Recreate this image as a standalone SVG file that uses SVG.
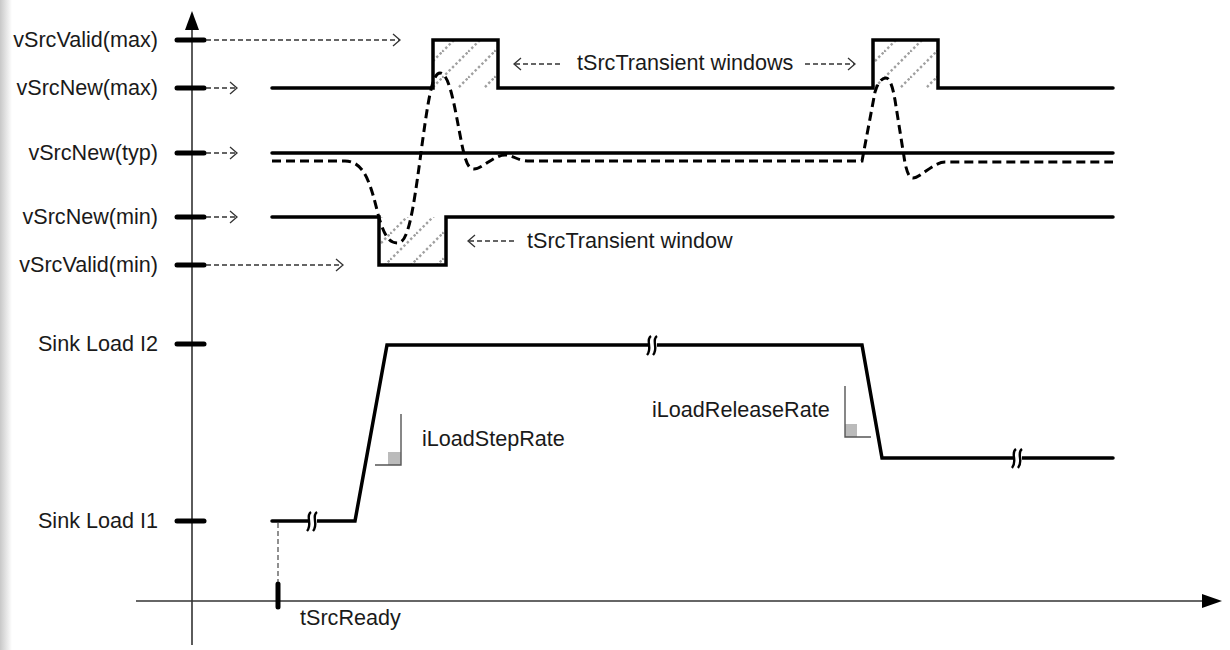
<svg xmlns="http://www.w3.org/2000/svg" width="1230" height="650" viewBox="0 0 1230 650">
<style>
  text { font-family: "Liberation Sans", Arial, sans-serif; font-size: 21.6px; fill: #1a1a1a; }
  .lbl { text-anchor: end; }
  .axis { stroke: #333; stroke-width: 1.6; fill: none; }
  .tick { stroke: #000; stroke-width: 5; stroke-linecap: round; }
  .sig { stroke: #000; stroke-width: 3.5; fill: none; stroke-linejoin: miter; stroke-linecap: round; }
  .trans { stroke: #000; stroke-width: 3; fill: none; stroke-dasharray: 9 5; }
  .ptr { stroke: #333; stroke-width: 1.3; fill: none; stroke-dasharray: 5 3; }
  .chev { stroke: #333; stroke-width: 1.3; fill: none; }
  .slope { stroke: #555; stroke-width: 1.4; fill: none; }
  .sq { fill: #bbb; }
  .brk { stroke: #000; stroke-width: 2.4; fill: none; }
  .gap { fill: #fff; }
</style>
<defs>
  <pattern id="hatch" patternUnits="userSpaceOnUse" width="26" height="26">
    <path d="M0,26 L26,0 M-13,13 L13,-13 M13,39 L39,13" stroke="#a0a0a0" stroke-width="2.4" stroke-dasharray="2.4 2.4"/>
  </pattern>
  <linearGradient id="edge" x1="0" y1="0" x2="1" y2="0">
    <stop offset="0" stop-color="#c8c8c8"/>
    <stop offset="1" stop-color="#ffffff"/>
  </linearGradient>
</defs>
<rect width="1230" height="650" fill="#fff"/>
<rect x="0" y="0" width="12" height="650" fill="url(#edge)"/>

<g id="axes">
  <line class="axis" x1="192" y1="28" x2="192" y2="645"/>
  <polygon points="192,11 185,30 199,30" fill="#000"/>
  <line class="axis" x1="136" y1="601" x2="1204" y2="601"/>
  <polygon points="1222,601 1202,594 1202,608" fill="#000"/>
</g>

<g id="ticks">
  <line class="tick" x1="177" y1="40" x2="204" y2="40"/>
  <line class="tick" x1="177" y1="88" x2="204" y2="88"/>
  <line class="tick" x1="177" y1="153" x2="204" y2="153"/>
  <line class="tick" x1="177" y1="217" x2="204" y2="217"/>
  <line class="tick" x1="177" y1="265" x2="204" y2="265"/>
  <line class="tick" x1="177" y1="344" x2="204" y2="344"/>
  <line class="tick" x1="177" y1="521" x2="204" y2="521"/>
  <line class="tick" x1="278" y1="584" x2="278" y2="607"/>
</g>

<g id="labels">
  <text class="lbl" x="158" y="47">vSrcValid(max)</text>
  <text class="lbl" x="158" y="95">vSrcNew(max)</text>
  <text class="lbl" x="158" y="160">vSrcNew(typ)</text>
  <text class="lbl" x="158" y="224">vSrcNew(min)</text>
  <text class="lbl" x="158" y="272">vSrcValid(min)</text>
  <text class="lbl" x="158" y="351">Sink Load I2</text>
  <text class="lbl" x="158" y="528">Sink Load I1</text>
  <text x="300" y="625">tSrcReady</text>
  <text x="422" y="446">iLoadStepRate</text>
  <text x="652" y="417">iLoadReleaseRate</text>
  <text x="577" y="70">tSrcTransient windows</text>
  <text x="527" y="248">tSrcTransient window</text>
</g>

<g id="connectors">
  <line class="ptr" x1="206" y1="40" x2="399" y2="40"/>
  <path class="chev" d="M393,34 L400,40 L393,46"/>
  <line class="ptr" x1="206" y1="88" x2="236" y2="88"/>
  <path class="chev" d="M230,82 L237,88 L230,94"/>
  <line class="ptr" x1="206" y1="153" x2="236" y2="153"/>
  <path class="chev" d="M230,147 L237,153 L230,159"/>
  <line class="ptr" x1="206" y1="217" x2="236" y2="217"/>
  <path class="chev" d="M230,211 L237,217 L230,223"/>
  <line class="ptr" x1="206" y1="265" x2="342" y2="265"/>
  <path class="chev" d="M336,259 L343,265 L336,271"/>
  <line class="ptr" x1="515" y1="64" x2="562" y2="64"/>
  <path class="chev" d="M521,58 L514,64 L521,70"/>
  <line class="ptr" x1="805" y1="64" x2="854" y2="64"/>
  <path class="chev" d="M848,58 L855,64 L848,70"/>
  <line class="ptr" x1="469" y1="241" x2="514" y2="241"/>
  <path class="chev" d="M475,235 L468,241 L475,247"/>
  <line x1="278" y1="523" x2="278" y2="582" stroke="#555" stroke-width="1.3" stroke-dasharray="5 3"/>
</g>

<g id="windows">
  <rect x="433" y="40" width="65" height="48" fill="url(#hatch)"/>
  <rect x="873" y="40" width="65" height="48" fill="url(#hatch)"/>
  <rect x="379" y="217" width="67" height="48" fill="url(#hatch)"/>
</g>

<g id="signals">
  <path class="sig" d="M272,88 L433,88 L433,40 L498,40 L498,88 L873,88 L873,40 L938,40 L938,88 L1113,88"/>
  <path class="sig" d="M272,153 L1113,153" stroke-width="3"/>
  <path class="sig" d="M272,217 L379,217 L379,265 L446,265 L446,217 L1113,217"/>
  <path class="trans" d="M272,161 L345,161 C365,161 371,186 378,214 C385,240 391,243 398,243 C408,243 413,212 420,160 C428,100 432,73 440,73 C450,73 455,110 462,145 C466,164 469,169 474,169 C482,169 494,155 505,155 C514,155 516,161 530,161 L862,161 L875,92 C878,82 882,78 886,78 C890,78 893,88 895,100 L905,163 C907,172 909,178 913,178 C920,178 934,162 945,162 L1113,162"/>
  <path class="sig" d="M272,521 L355,521 L387,345 L862,345 L882,458 L1113,458"/>
</g>

<g id="breaks">
  <rect class="gap" x="309" y="513" width="8" height="16"/>
  <path class="brk" d="M311,512 C305,516 313,524 307,531 M317,512 C311,516 319,524 313,531"/>
  <rect class="gap" x="649" y="337" width="8" height="16"/>
  <path class="brk" d="M651,336 C645,340 653,348 647,355 M657,336 C651,340 659,348 653,355"/>
  <rect class="gap" x="1014" y="450" width="8" height="16"/>
  <path class="brk" d="M1016,449 C1010,453 1018,461 1012,468 M1022,449 C1016,453 1024,461 1018,468"/>
</g>

<g id="slopes">
  <rect class="sq" x="388" y="452" width="13" height="13"/>
  <path class="slope" d="M401,414 L401,465 L375,465"/>
  <rect class="sq" x="845" y="424" width="12" height="13"/>
  <path class="slope" d="M845,386 L845,437 L871,437"/>
</g>
</svg>
